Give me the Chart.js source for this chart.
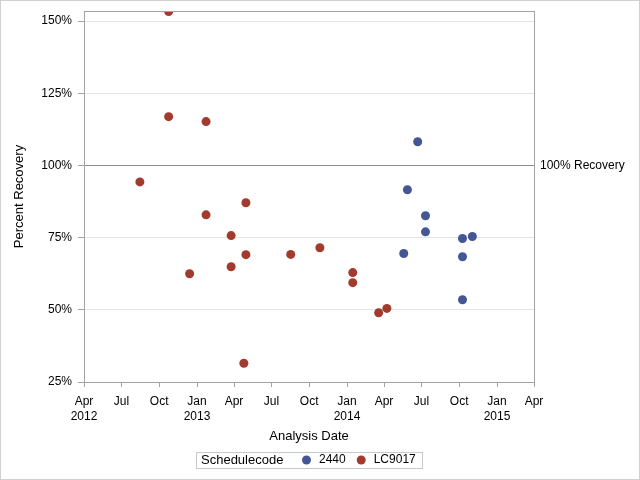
<!DOCTYPE html>
<html>
<head>
<meta charset="utf-8">
<script src="https://cdn.jsdelivr.net/npm/chart.js@4/dist/chart.umd.min.js"></script>
<style>
  body { margin: 0; background: #fff; }
  #wrap { width: 640px; height: 480px; }
</style>
</head>
<body>
<div id="wrap"><canvas id="chart" width="640" height="480"></canvas></div>
<script>
// data
const dates2440 = ["2014-06-22", "2014-05-28", "2014-07-11", "2014-07-11", "2014-05-19",
  "2014-10-09", "2014-11-02", "2014-10-09", "2014-10-09"];
const recovery2440 = [108.2, 91.6, 82.6, 77.0, 69.5, 74.7, 75.4, 68.4, 53.5];

const datesLC9017 = ["2012-08-15", "2012-10-24", "2012-10-24", "2013-01-23", "2013-01-23",
  "2012-12-14", "2013-03-25", "2013-03-25", "2013-04-30", "2013-04-30", "2013-04-25",
  "2013-08-17", "2013-10-27", "2014-01-15", "2014-01-15", "2014-03-19", "2014-04-08"];
const recoveryLC9017 = [94.3, 153.3, 116.9, 115.2, 82.9, 62.5, 75.7, 64.9, 87.1, 69.1, 31.5,
  69.2, 71.5, 62.9, 59.4, 49.0, 50.5];

const xTickDates = ["2012-04-01", "2012-07-01", "2012-10-01", "2013-01-01", "2013-04-01",
  "2013-07-01", "2013-10-01", "2014-01-01", "2014-04-01", "2014-07-01", "2014-10-01",
  "2015-01-01", "2015-04-01"];
const xTickLabels = [["Apr", "2012"], "Jul", "Oct", ["Jan", "2013"], "Apr", "Jul", "Oct",
  ["Jan", "2014"], "Apr", "Jul", "Oct", ["Jan", "2015"], "Apr"];
const yTicks = [25, 50, 75, 100, 125, 150];
const refValue = 100;
const refLabel = "100% Recovery";
const legendTitle = "Schedulecode";

const toPoints = (dates, vals) => dates.map((d, i) => ({ x: Date.parse(d), y: vals[i] }));

const frameColor = "#a0a4a8";
const font = "Liberation Sans, Arial, sans-serif";

const extras = {
  id: "extras",
  afterDraw(chart) {
    const { ctx, chartArea: a, scales } = chart;
    ctx.save();
    // outer border
    ctx.strokeStyle = "#d0d0d0";
    ctx.lineWidth = 1;
    ctx.strokeRect(0.5, 0.5, 639, 479);
    // reference line + label
    const ry = Math.round(scales.y.getPixelForValue(refValue)) + 0.5;
    ctx.strokeStyle = "#8c8c8c";
    ctx.beginPath();
    ctx.moveTo(a.left, ry);
    ctx.lineTo(a.right, ry);
    ctx.stroke();
    ctx.fillStyle = "#000";
    ctx.font = "12px " + font;
    ctx.textBaseline = "middle";
    ctx.fillText(refLabel, a.right + 6, ry);
    // plot frame
    ctx.strokeStyle = frameColor;
    ctx.strokeRect(Math.round(a.left) + 0.5, Math.round(a.top) + 0.5,
      Math.round(a.right - a.left), Math.round(a.bottom - a.top));
    // legend
    const ly = 460;
    ctx.strokeStyle = "#c8c8c8";
    ctx.strokeRect(196.5, 452.5, 226, 16);
    ctx.fillStyle = "#000";
    ctx.font = "13px " + font;
    ctx.fillText(legendTitle, 201, ly);
    let x = 302;
    ctx.font = "12px " + font;
    chart.data.datasets.forEach(ds => {
      ctx.fillStyle = ds.backgroundColor;
      ctx.beginPath();
      ctx.arc(x + 4.5, ly, 4.5, 0, Math.PI * 2);
      ctx.fill();
      ctx.fillStyle = "#000";
      ctx.fillText(ds.label, x + 17, ly);
      x += ctx.measureText(ds.label).width + 28;
    });
    ctx.restore();
  }
};

new Chart(document.getElementById("chart"), {
  type: "scatter",
  data: {
    datasets: [
      { label: "2440", data: toPoints(dates2440, recovery2440),
        backgroundColor: "#445694", borderWidth: 0, pointRadius: 4.5, pointHoverRadius: 4.5 },
      { label: "LC9017", data: toPoints(datesLC9017, recoveryLC9017),
        backgroundColor: "#a23a2e", borderWidth: 0, pointRadius: 4.5, pointHoverRadius: 4.5 },
    ],
  },
  options: {
    responsive: false,
    animation: false,
    events: [],
    layout: { padding: { left: 0, right: 106, top: 11, bottom: 36 } },
    plugins: { legend: { display: false }, tooltip: { enabled: false } },
    scales: {
      x: {
        type: "linear",
        min: Date.parse(xTickDates[0]),
        max: Date.parse(xTickDates[xTickDates.length - 1]),
        afterBuildTicks: s => { s.ticks = xTickDates.map(d => ({ value: Date.parse(d) })); },
        afterFit: s => { s.height = 62; s.paddingLeft = 0; s.paddingRight = 0; },
        border: { display: false },
        grid: { drawOnChartArea: false, drawTicks: true, tickLength: 5, tickColor: frameColor },
        ticks: {
          autoSkip: false, maxRotation: 0, padding: 7, color: "#000",
          font: { family: font, size: 12, lineHeight: 1.25 },
          callback: (v, i) => xTickLabels[i],
        },
        title: { display: true, text: "Analysis Date", color: "#000",
          font: { family: font, size: 13 }, padding: { top: 0, bottom: 0 } },
      },
      y: {
        min: 25,
        max: 153.5,
        afterBuildTicks: s => { s.ticks = yTicks.map(v => ({ value: v })); },
        afterFit: s => { s.width = 84; s.paddingTop = 0; s.paddingBottom = 0; },
        border: { display: false },
        grid: { color: "#e4e4e4", tickLength: 6, tickColor: frameColor },
        ticks: { padding: 6, color: "#000", font: { family: font, size: 12 },
          callback: v => v + "%" },
        title: { display: true, text: "Percent Recovery", color: "#000",
          font: { family: font, size: 13 }, padding: { top: 12, bottom: 0 } },
      },
    },
  },
  plugins: [extras],
});
</script>
</body>
</html>
